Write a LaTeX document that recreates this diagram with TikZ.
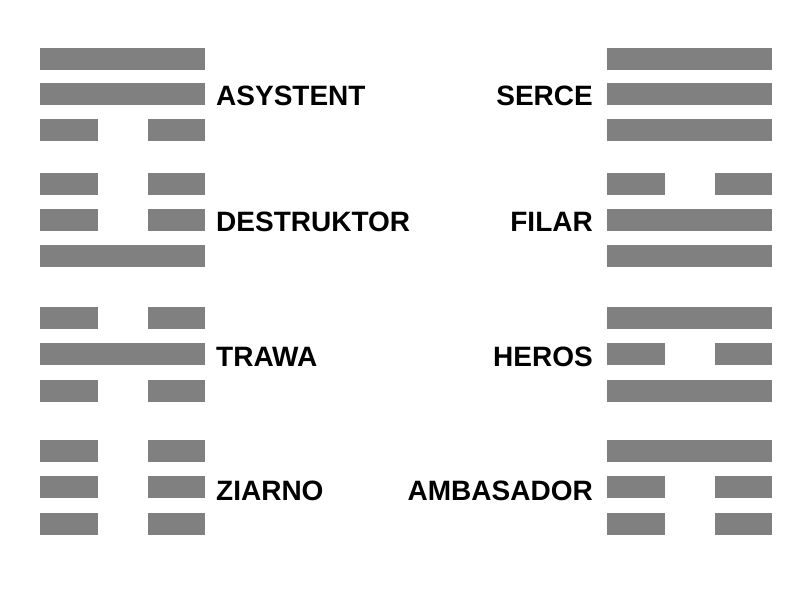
\documentclass[tikz,border=0pt]{standalone}
\usepackage{fontspec}
\setmainfont{Liberation Sans}
\begin{document}
\begin{tikzpicture}[x=1pt,y=-1pt,
  barfill/.style={fill={rgb,255:red,128;green,128;blue,128}},
  lbl/.style={inner sep=0pt,font=\bfseries\fontsize{28}{28}\selectfont}]
\useasboundingbox (0,0) rectangle (800,600);
% broken bar (yin) and solid bar (yang): x0, ytop
\newcommand{\yin}[2]{%
  \fill[barfill] (#1,#2) rectangle ++(57.5,22);
  \fill[barfill] (#1+107.5,#2) rectangle ++(57.5,22);}
\newcommand{\yang}[2]{\fill[barfill] (#1,#2) rectangle ++(165,22);}
% left column x=40
\yang{40}{47.5}\yang{40}{83}\yin{40}{119}
\yin{40}{173}\yin{40}{209}\yang{40}{245}
\yin{40}{307}\yang{40}{343}\yin{40}{380}
\yin{40}{440}\yin{40}{476}\yin{40}{512.5}
% right column x=607
\yang{607}{47.5}\yang{607}{83}\yang{607}{119}
\yin{607}{173}\yang{607}{209}\yang{607}{245}
\yang{607}{307}\yin{607}{343}\yang{607}{380}
\yang{607}{440}\yin{607}{476}\yin{607}{512.5}
% labels
\node[lbl,anchor=base west] (asystent) at (216,105) {ASYSTENT};
\node[lbl,anchor=base west] (destruktor) at (216,231.5) {DESTRUKTOR};
\node[lbl,anchor=base west] (trawa) at (216,366) {TRAWA};
\node[lbl,anchor=base west] (ziarno) at (216,500) {ZIARNO};
\node[lbl,anchor=base east] (serce) at (593,105) {SERCE};
\node[lbl,anchor=base east] (filar) at (593,231.5) {FILAR};
\node[lbl,anchor=base east] (heros) at (593,366) {HEROS};
\node[lbl,anchor=base east] (ambasador) at (593,500) {AMBASADOR};
\end{tikzpicture}
\end{document}
